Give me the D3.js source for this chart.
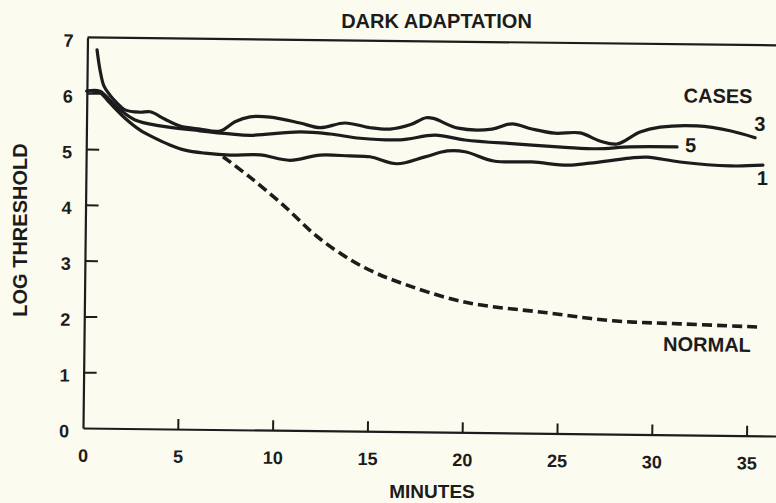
<!DOCTYPE html>
<html>
<head>
<meta charset="utf-8">
<script src="https://cdn.jsdelivr.net/npm/d3@7"></script>
<style>
  html, body { margin: 0; padding: 0; background: #fbfbef; }
  svg { display: block; }
  text { font-family: "Liberation Sans", Arial, Helvetica, sans-serif; font-weight: bold; fill: #1c1c1c; }
</style>
</head>
<body>
<script>
// Dark adaptation: log threshold against minutes in the dark.
// Each series is a list of [minutes, log threshold] pairs.
const case3 = [
  [0.51, 6.78], [0.68, 6.42], [0.90, 6.13], [1.22, 5.97], [1.60, 5.83], [2.02, 5.71],
  [2.82, 5.67], [3.35, 5.68], [4.14, 5.55], [4.93, 5.43], [5.99, 5.38], [7.05, 5.35],
  [7.83, 5.52], [8.62, 5.61], [9.68, 5.61], [11.26, 5.51], [12.32, 5.43], [13.63, 5.52],
  [14.96, 5.44], [16.01, 5.42], [17.06, 5.50], [17.9, 5.63], [18.3, 5.62], [19.6, 5.45],
  [21.39, 5.44], [22.44, 5.54], [23.5, 5.45], [24.7, 5.38], [26.03, 5.39], [27.09, 5.25],
  [27.99, 5.20], [29.2, 5.42], [30.25, 5.51], [32.2, 5.54], [33.94, 5.46], [35.27, 5.34]
];
const case5 = [
  [0, 6.04], [0.69, 6.04], [1.22, 5.88], [1.76, 5.71], [2.56, 5.53], [3.88, 5.43],
  [5.99, 5.35], [7.57, 5.30], [8.63, 5.28], [11.27, 5.35], [12.85, 5.32], [14.44, 5.25],
  [16.55, 5.23], [18.39, 5.32], [19.97, 5.24], [22.61, 5.18], [25.25, 5.13], [26.94, 5.11],
  [28.68, 5.15], [31.16, 5.16]
];
const case1 = [
  [0, 6.04], [0.69, 6.01], [1.22, 5.83], [2.03, 5.56], [2.83, 5.35], [3.62, 5.21],
  [4.41, 5.09], [5.21, 5.00], [6.27, 4.95], [7.59, 4.92], [9.17, 4.93], [10.75, 4.84],
  [12.34, 4.94], [13.92, 4.93], [14.97, 4.92], [16.4, 4.80], [17.87, 4.93], [19.05, 5.04],
  [19.98, 5.03], [21.5, 4.87], [23.52, 4.86], [25.4, 4.81], [26.58, 4.85], [28.69, 4.95],
  [29.59, 4.97], [31.32, 4.89], [33.97, 4.83], [35.7, 4.85]
];
const normal = [
  [7.22, 4.89], [8.65, 4.53], [10.41, 4.04], [12.23, 3.48], [13.95, 3.08], [15.2, 2.86],
  [16.47, 2.69], [19.97, 2.34], [24.4, 2.16], [27.89, 2.03], [31.42, 1.99], [35.49, 1.95]
];
const xTicks = [0, 5, 10, 15, 20, 25, 30, 35];
const yTicks = [0, 1, 2, 3, 4, 5, 6, 7];
const caseLabels = ["3", "5", "1"];

const W = 776, H = 503;
const svg = d3.select("body").append("svg").attr("width", W).attr("height", H);
svg.append("rect").attr("width", W).attr("height", H).attr("fill", "#fbfbef");

// Plot frame, tilted slightly as on the printed page.
const g = svg.append("g").attr("transform", "translate(83,428) rotate(0.66)");

const x = d3.scaleLinear().domain([0, 37]).range([0, 37 * 18.96]);
const y = d3.scaleLinear().domain([0, 7]).range([0, -7 * 55.8]);

const ink = "#1c1c1c";

// X axis with inward ticks
const xAxis = g.append("g")
  .call(d3.axisBottom(x).tickValues(xTicks).tickSizeInner(-10).tickSizeOuter(0).tickPadding(21).tickFormat(d3.format("d")));
xAxis.select(".domain").attr("stroke", ink).attr("stroke-width", 2.2);
xAxis.selectAll(".tick line").attr("stroke", ink).attr("stroke-width", 2);
xAxis.selectAll(".tick").filter(d => d === 0).select("line").remove();
xAxis.selectAll(".tick text").attr("font-size", 18).attr("font-family", null).attr("fill", ink);

// Y axis with inward ticks
const yAxis = g.append("g")
  .call(d3.axisLeft(y).tickValues(yTicks).tickSizeInner(-13).tickSizeOuter(0).tickPadding(14).tickFormat(d3.format("d")));
yAxis.select(".domain").attr("stroke", ink).attr("stroke-width", 2.2);
yAxis.selectAll(".tick line").attr("stroke", ink).attr("stroke-width", 2);
yAxis.selectAll(".tick").filter(d => d === 0 || d === 7).select("line").remove();
yAxis.selectAll(".tick text").attr("font-size", 18).attr("font-family", null).attr("fill", ink).attr("dy", "0.5em");

// Top border of the frame
g.append("line")
  .attr("x1", x(0)).attr("x2", x(37))
  .attr("y1", y(7)).attr("y2", y(7))
  .attr("stroke", ink).attr("stroke-width", 2.2);

const line = d3.line()
  .x(d => x(d[0]))
  .y(d => y(d[1]))
  .curve(d3.curveCatmullRom.alpha(0.5));

const solid = [case1, case5, case3];
g.selectAll("path.case")
  .data(solid)
  .join("path")
  .attr("class", "case")
  .attr("d", line)
  .attr("fill", "none")
  .attr("stroke", ink)
  .attr("stroke-width", 3.2)
  .attr("stroke-linecap", "round")
  .attr("stroke-linejoin", "round");

g.append("path")
  .attr("d", line(normal))
  .attr("fill", "none")
  .attr("stroke", ink)
  .attr("stroke-width", 3.6)
  .attr("stroke-dasharray", "10,5");

// Case numbers at the ends of the curves
const ends = [
  { s: case3, t: caseLabels[0], dx: -1, dy: -7 },
  { s: case5, t: caseLabels[1], dx: 8, dy: 5 },
  { s: case1, t: caseLabels[2], dx: -6, dy: 20 }
];
ends.forEach(e => {
  const last = e.s[e.s.length - 1];
  g.append("text")
    .attr("x", x(last[0]) + e.dx)
    .attr("y", y(last[1]) + e.dy)
    .attr("font-size", 20)
    .text(e.t);
});

const c3 = case3[case3.length - 1];
g.append("text")
  .attr("x", x(c3[0]) - 72)
  .attr("y", y(c3[1]) - 34.5)
  .attr("font-size", 20)
  .text("CASES");

const nEnd = normal[normal.length - 1];
g.append("text")
  .attr("x", x(nEnd[0]) - 6)
  .attr("y", y(nEnd[1]) + 25)
  .attr("text-anchor", "end")
  .attr("font-size", 20)
  .text("NORMAL");

// Titles
svg.append("text")
  .attr("x", 436.5).attr("y", 28)
  .attr("text-anchor", "middle")
  .attr("font-size", 20)
  .text("DARK ADAPTATION");

svg.append("text")
  .attr("x", 432).attr("y", 498)
  .attr("text-anchor", "middle")
  .attr("font-size", 19)
  .text("MINUTES");

svg.append("text")
  .attr("transform", "translate(27,230) rotate(-90)")
  .attr("text-anchor", "middle")
  .attr("font-size", 20)
  .text("LOG THRESHOLD");
</script>
</body>
</html>
